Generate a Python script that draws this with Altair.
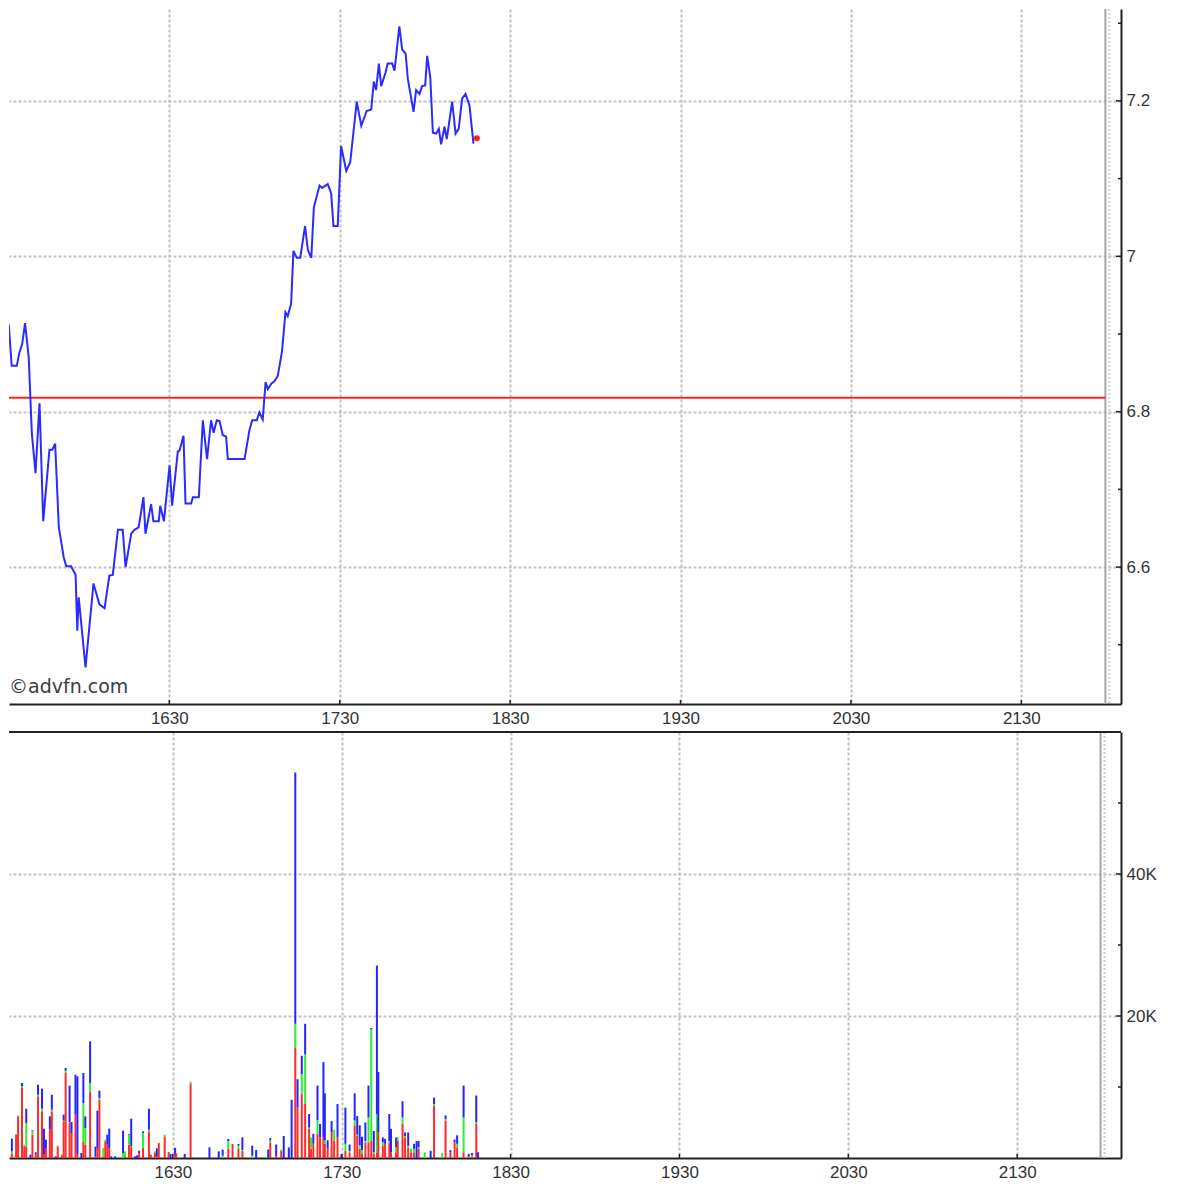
import altair as alt
import pandas as pd

# ---------------- data ----------------
BASE = 15 * 60 + 30  # 15:30, minutes since midnight

# price line: minutes after 15:30, price
price_t = [0.0, 1.4, 2.2, 3.5, 4.5, 6.3, 7.2, 8.2, 9.2, 10.5, 11.6, 12.9, 14.3, 15.6, 17.8, 18.8,
           19.8, 21.1, 22.8, 23.7, 25.4, 27.0, 27.6, 28.1, 30.5, 33.3, 35.4, 37.2, 38.9, 40.1,
           41.9, 43.6, 44.6, 46.6, 47.7, 49.2, 50.9, 51.6, 53.6, 54.4, 56.3, 56.8, 58.1, 60.1,
           61.0, 63.0, 63.6, 65.0, 65.7, 67.7, 68.3, 70.4, 71.8, 73.3, 74.7, 75.6, 76.7, 77.7,
           78.8, 80.0, 80.6, 86.5, 88.2, 89.2, 90.8, 91.7, 92.9, 93.9, 94.7, 95.9, 97.0, 98.2,
           99.7, 100.9, 101.7, 102.9, 103.7, 104.9, 106.1, 107.8, 108.8, 110.0, 110.9, 112.9,
           113.8, 115.8, 117.0, 117.8, 119.3, 120.5, 122.3, 123.7, 126.0, 127.6, 129.5, 131.1,
           132.0, 132.8, 133.8, 134.6, 136.1, 136.9, 138.5, 139.3, 141.0, 142.0, 143.2, 144.0,
           146.0, 146.9, 148.1, 149.0, 150.1, 150.8, 151.9, 152.8, 154.0, 154.9, 155.7, 156.9,
           157.7, 159.6, 160.8, 161.9, 163.1, 164.3, 165.7, 167.1]
price_v = [6.901, 6.902, 6.920, 6.911, 6.859, 6.859, 6.876, 6.887, 6.914, 6.870, 6.772, 6.721,
           6.811, 6.659, 6.751, 6.751, 6.759, 6.651, 6.613, 6.601, 6.601, 6.590, 6.518, 6.561,
           6.471, 6.579, 6.552, 6.547, 6.589, 6.590, 6.648, 6.648, 6.600, 6.643, 6.648, 6.651,
           6.690, 6.643, 6.681, 6.659, 6.659, 6.679, 6.659, 6.731, 6.679, 6.749, 6.750, 6.769,
           6.682, 6.682, 6.690, 6.690, 6.789, 6.739, 6.789, 6.773, 6.789, 6.788, 6.770, 6.768,
           6.739, 6.739, 6.776, 6.789, 6.789, 6.799, 6.790, 6.838, 6.829, 6.836, 6.839, 6.846,
           6.878, 6.928, 6.923, 6.939, 7.007, 6.998, 6.998, 7.039, 7.008, 6.998, 7.063, 7.091,
           7.088, 7.093, 7.081, 7.039, 7.039, 7.142, 7.110, 7.121, 7.199, 7.168, 7.187, 7.189,
           7.225, 7.214, 7.248, 7.219, 7.236, 7.248, 7.248, 7.239, 7.296, 7.266, 7.261, 7.228,
           7.186, 7.214, 7.209, 7.219, 7.220, 7.258, 7.230, 7.159, 7.158, 7.164, 7.144, 7.167,
           7.151, 7.199, 7.158, 7.164, 7.203, 7.209, 7.194, 7.145]
last_t = [168.3]
last_v = [7.152]
prev_close = [6.818]

# volume bars: minutes after 15:30, thousands of shares per colour part
vol_t = [0.8, 2.8, 4.3, 5.0, 6.4, 7.2, 7.9, 9.4, 10.1, 11.3, 12.1, 13.5, 14.2, 14.9, 16.3, 17.0,
         18.4, 19.1, 20.5, 21.2, 21.9, 23.3, 24.0, 25.4, 26.1, 27.5, 28.2, 28.9, 30.6, 32.5,
         33.2, 33.9, 35.3, 36.0, 36.7, 37.4, 38.1, 39.5, 42.3, 43.0, 44.4, 45.2, 46.6, 47.3,
         48.0, 49.4, 51.5, 52.2, 53.6, 54.3, 55.0, 57.1, 58.5, 59.2, 60.8, 61.2, 64.2, 66.3,
         73.0, 76.3, 77.7, 79.7, 81.2, 83.3, 84.7, 88.2, 89.6, 93.9, 94.6, 96.7, 98.5, 99.4,
         101.2, 102.2, 103.5, 104.3, 105.8, 107.0, 108.4, 109.1, 109.9, 111.4, 112.3, 113.5,
         114.0, 115.0, 116.4, 117.3, 118.5, 119.9, 121.3, 122.8, 124.6, 125.5, 126.4, 127.2,
         128.4, 129.5, 130.5, 131.4, 132.5, 133.0, 134.6, 135.4, 136.9, 137.5, 139.3, 139.9,
         141.6, 142.5, 143.6, 144.6, 145.7, 146.6, 147.3, 149.5, 151.6, 152.8, 155.7, 156.9,
         158.6, 160.1, 161.0, 163.3, 165.1, 166.3, 167.8, 168.4]
vol_red = [13.85, 0.56, 3.29, 5.87, 9.86, 1.64, 1.64, 0.0, 3.29, 0.47, 8.69, 6.57, 0.47, 1.41,
           3.99, 6.57, 0.0, 1.64, 0.38, 5.16, 11.97, 4.93, 3.52, 6.10, 0.47, 0.0, 2.35, 1.88,
           9.39, 0.2, 1.41, 8.22, 0.23, 2.35, 1.88, 1.41, 0.0, 0.0, 0.0, 0.23, 1.88, 1.64, 0.0,
           0.0, 0.7, 1.41, 3.76, 0.47, 0.7, 0.2, 2.11, 3.05, 0.85, 0.0, 0.3, 0.66, 0.0, 10.5,
           0.0, 0.0, 0.0, 1.27, 1.97, 1.27, 1.03, 0.0, 0.0, 0.0, 2.2, 0.3, 1.0, 0.0,
           0.0, 0.0, 15.6, 7.1, 9.0, 7.6, 4.1, 1.3, 2.0, 3.4, 2.9, 2.9,
           2.0, 1.3, 3.6, 2.4, 2.9, 0.0, 1.0, 0.8, 4.6, 3.1, 1.3, 0.6,
           2.2, 2.2, 2.4, 0.6, 0.8, 3.6, 1.7, 2.0, 2.2, 0.8, 0.8, 2.4,
           4.8, 2.9, 1.5, 0.8, 0.8, 0.0, 1.3, 0.0, 0.0, 7.4, 0.0, 5.3,
           0.8, 2.2, 1.5, 0.8, 0.2, 0.2, 4.8, 0.0]
vol_green = [1.41, 0.38, 0.1, 0.1, 0.23, 0.23, 3.29, 0.0, 0.47, 0.0, 0.23, 0.38, 0.0, 0.0,
             0.0, 0.23, 0.0, 0.1, 0.14, 0.1, 0.33, 0.1, 0.0, 0.0, 0.0, 0.0, 5.40, 2.35,
             1.17, 0.0, 0.0, 0.23, 1.17, 0.23, 0.0, 0.0, 0.0, 0.0, 0.7, 0.7, 1.41, 0.0, 0.0,
             0.0, 0.0, 2.11, 0.23, 0.0, 0.23, 0.0, 0.0, 0.23, 0.0, 0.0, 0.0, 0.0, 0.0, 0.23,
             0.0, 0.0, 0.33, 1.08, 0.0, 0.47, 0.1, 0.33, 0.0, 0.0, 0.3, 0.0, 0.2, 0.0,
             0.0, 0.0, 3.3, 0.0, 2.8, 7.0, 0.2, 1.6, 0.0, 1.9, 0.0, 0.0,
             0.5, 0.0, 0.0, 1.6, 0.0, 0.0, 1.0, 0.2, 0.7, 0.2, 0.5, 0.5,
             0.2, 3.5, 15.7, 0.2, 5.4, 0.0, 0.5, 0.0, 0.2, 0.0, 0.7, 0.5,
             0.9, 0.2, 0.2, 0.5, 0.5, 0.0, 0.2, 0.8, 0.0, 0.2, 0.7, 0.2,
             0.0, 0.0, 0.5, 4.9, 0.0, 0.2, 0.2, 0.0]
vol_blue = [0.70, 1.78, 0.0, 0.0, 0.47, 0.0, 2.02, 0.47, 0.14, 0.33, 1.41, 2.82, 3.66, 1.17,
            1.88, 2.11, 0.23, 0.0, 0.0, 0.85, 0.38, 5.16, 1.55, 5.63, 11.03, 0.70, 4.23, 1.64,
            5.87, 1.41, 5.26, 1.03, 0.0, 0.0, 1.41, 2.72, 0.23, 0.23, 3.15, 0.0, 0.1, 3.9, 0.23,
            0.38, 0.33, 0.23, 2.96, 0.0, 0.0, 1.17, 0.0, 0.0, 0.0, 0.56, 1.13, 0.0, 0.56, 0.0,
            1.5, 0.94, 0.85, 0.33, 0.0, 0.23, 1.78, 1.41, 1.13, 1.2, 0.3, 1.6, 0.0, 3.1,
            1.5, 8.2, 35.4, 4.0, 2.6, 4.3, 1.9, 0.0, 1.4, 4.9, 1.9, 10.6,
            6.6, 1.2, 1.6, 0.0, 4.7, 0.5, 5.1, 0.9, 3.8, 2.6, 2.8, 1.9,
            2.6, 4.5, 0.2, 3.0, 20.9, 8.5, 0.7, 0.7, 3.8, 3.3, 1.4, 0.0,
            2.3, 0.5, 1.9, 0.0, 0.7, 2.4, 0.9, 0.0, 1.0, 0.9, 0.0, 0.5,
            0.3, 0.4, 1.2, 4.5, 0.4, 0.3, 3.8, 0.8]

hour_ticks = [990, 1050, 1110, 1170, 1230, 1290]      # 16:30 ... 21:30
session_end = [1319.6]
session_mark = [1321.0]
price_major = [6.6, 6.8, 7.0, 7.2]
price_minor = [6.5, 6.7, 6.9, 7.1, 7.3]
vol_major = [20000, 40000]
vol_minor = [10000, 30000, 50000]

# ---------------- layout / styles ----------------
W = 1112
H1 = 695
H2 = 426
X_DOMAIN = [933.556, 1325.10]
FONT = "Liberation Sans"
GRID = "#bfc3c3"
AXC = "#222222"
LBL = "#333333"
LFS = 17

xs = alt.Scale(domain=X_DOMAIN, nice=False, zero=False)
ys1 = alt.Scale(domain=[6.4238, 7.3183], nice=False, zero=False)
ys2 = alt.Scale(domain=[0, 60000], nice=False)

def x_axis():
    return alt.Axis(values=hour_ticks, orient="bottom", title=None,
                    labelExpr="format(floor(datum.value/60)*100 + datum.value % 60, 'd')",
                    grid=True, gridColor=GRID, gridDash=[3, 2], gridWidth=2,
                    tickSize=0, domainColor=AXC, domainWidth=2,
                    labelPadding=6, labelFontSize=LFS, labelFont=FONT, labelColor=LBL,
                    labelFlush=False)

def y_axis(values, **kw):
    return alt.Axis(orient="right", values=values, title=None,
                    grid=True, gridColor=GRID, gridDash=[3, 2], gridWidth=2,
                    tickSize=0, domainColor=AXC, domainWidth=2, labelPadding=5,
                    labelFontSize=LFS, labelFont=FONT, labelColor=LBL,
                    labelBaseline="middle", **kw)

price_df = pd.DataFrame({"t": [BASE + v for v in price_t], "p": price_v})
last_df = pd.DataFrame({"t": [BASE + v for v in last_t], "p": last_v})
pc_df = pd.DataFrame({"t0": [X_DOMAIN[0]], "t1": session_end, "p": prev_close})
sess_df = pd.DataFrame({"t": session_end})
mark_df = pd.DataFrame({"t": session_mark})
hticks_df = pd.DataFrame({"t": hour_ticks})
pmaj_df = pd.DataFrame({"p": price_major})
pmin_df = pd.DataFrame({"p": price_minor})

rows = []
for i, t in enumerate(vol_t):
    for k, (name, arr) in enumerate([("red", vol_red), ("green", vol_green), ("blue", vol_blue)]):
        rows.append({"t": BASE + t, "part": name, "k": k, "v": arr[i] * 1000})
vol_df = pd.DataFrame(rows)
vmaj_df = pd.DataFrame({"v": vol_major})
vmin_df = pd.DataFrame({"v": vol_minor})

one = pd.DataFrame({"a": [0]})

# ---------------- top panel: price ----------------
line = alt.Chart(price_df).mark_line(color="#2b2bff", strokeWidth=2, clip=True).encode(
    x=alt.X("t:Q", scale=xs, axis=x_axis()),
    y=alt.Y("p:Q", scale=ys1, axis=y_axis(price_major, format=".1~f")),
)
sess1 = alt.Chart(sess_df).mark_rule(color="#a4a4a4", strokeWidth=2).encode(x=alt.X("t:Q", scale=xs))
mark1 = alt.Chart(mark_df).mark_rule(color="#c4d2d6", strokeWidth=2, strokeDash=[2, 2]).encode(
    x=alt.X("t:Q", scale=xs))
pc = alt.Chart(pc_df).mark_rule(color="#ff2424", strokeWidth=2, clip=True).encode(
    x=alt.X("t0:Q", scale=xs), x2="t1:Q", y=alt.Y("p:Q", scale=ys1))
dot = alt.Chart(last_df).mark_circle(color="#ff2020", size=36, opacity=1).encode(
    x=alt.X("t:Q", scale=xs), y=alt.Y("p:Q", scale=ys1))
tk_maj1 = alt.Chart(pmaj_df).mark_rule(color=AXC, strokeWidth=1.5).encode(
    y=alt.Y("p:Q", scale=ys1), x=alt.value(W - 5), x2=alt.value(W))
tk_min1 = alt.Chart(pmin_df).mark_rule(color=AXC, strokeWidth=1.5).encode(
    y=alt.Y("p:Q", scale=ys1), x=alt.value(W - 3), x2=alt.value(W))
tk_x1 = alt.Chart(hticks_df).mark_rule(color=AXC, strokeWidth=1.5).encode(
    x=alt.X("t:Q", scale=xs), y=alt.value(H1 - 4), y2=alt.value(H1))
wm = alt.Chart(pd.DataFrame({"s": ["©advfn.com"]})).mark_text(
    align="left", baseline="alphabetic", font="DejaVu Sans", fontSize=19, color="#3c3c3c"
).encode(x=alt.value(0), y=alt.value(684), text="s:N")

top = alt.layer(sess1, mark1, pc, line, dot, tk_maj1, tk_min1, tk_x1, wm).properties(
    width=W, height=H1)

# ---------------- bottom panel: volume ----------------
bars = alt.Chart(vol_df).mark_bar(size=2, clip=True).encode(
    x=alt.X("t:Q", scale=xs, axis=x_axis()),
    y=alt.Y("v:Q", stack="zero", scale=ys2,
            axis=y_axis(vol_major, labelExpr="datum.value/1000 + 'K'")),
    color=alt.Color("part:N", scale=alt.Scale(domain=["red", "green", "blue"],
                                               range=["#ff2a2a", "#2cf02c", "#2424ff"]), legend=None),
    order=alt.Order("k:Q"),
)
sess2 = alt.Chart(sess_df).mark_rule(color="#a4a4a4", strokeWidth=2).encode(x=alt.X("t:Q", scale=xs))
mark2 = alt.Chart(mark_df).mark_rule(color="#c4d2d6", strokeWidth=2, strokeDash=[2, 2]).encode(
    x=alt.X("t:Q", scale=xs))
tk_maj2 = alt.Chart(vmaj_df).mark_rule(color=AXC, strokeWidth=1.5).encode(
    y=alt.Y("v:Q", scale=ys2), x=alt.value(W - 5), x2=alt.value(W))
tk_min2 = alt.Chart(vmin_df).mark_rule(color=AXC, strokeWidth=1.5).encode(
    y=alt.Y("v:Q", scale=ys2), x=alt.value(W - 3), x2=alt.value(W))
tk_x2 = alt.Chart(hticks_df).mark_rule(color=AXC, strokeWidth=1.5).encode(
    x=alt.X("t:Q", scale=xs), y=alt.value(H2 - 4), y2=alt.value(H2))
topline2 = alt.Chart(one).mark_rule(color=AXC, strokeWidth=2).encode(
    x=alt.value(0), x2=alt.value(W), y=alt.value(0))

bottom = alt.layer(sess2, mark2, bars, tk_maj2, tk_min2, tk_x2, topline2).properties(
    width=W, height=H2)

chart = alt.vconcat(top, bottom, spacing=28, bounds="flush").properties(
    padding={"left": 0, "top": 0, "right": 0, "bottom": 0},
    autosize=alt.AutoSizeParams(type="pad", contains="content"),
    background="#ffffff",
).configure_view(strokeWidth=0)

chart.save("out.html", embed_options={"renderer": "svg", "actions": False})
